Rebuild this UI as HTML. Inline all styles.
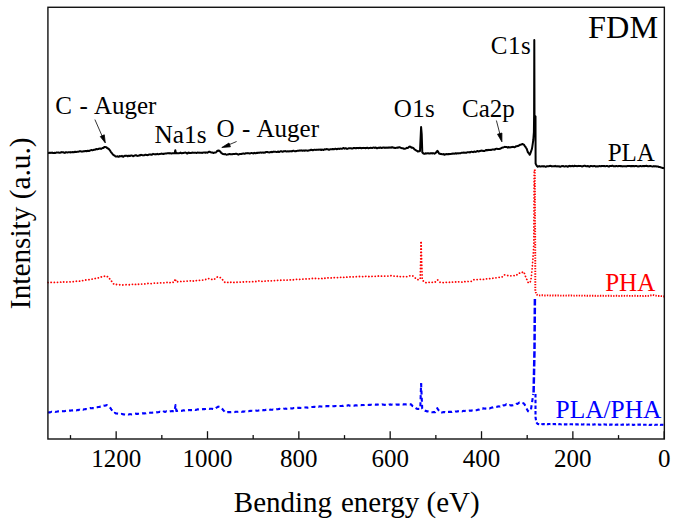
<!DOCTYPE html>
<html><head><meta charset="utf-8"><title>XPS FDM</title>
<style>
html,body{margin:0;padding:0;background:#fff;}
body{width:676px;height:526px;overflow:hidden;}
svg{display:block;}
text{font-family:"Liberation Serif",serif;fill:#000;}
</style></head><body>
<svg width="676" height="526" viewBox="0 0 676 526">
<rect x="0" y="0" width="676" height="526" fill="#fff"/>
<!-- PLA (black, solid) -->
<path d="M48.00 152.90 L48.46 152.90 L48.92 152.98 L49.38 152.76 L49.84 152.63 L50.30 152.73 L50.76 153.00 L51.22 152.85 L51.68 152.63 L52.14 152.57 L52.60 152.76 L53.06 153.08 L53.51 153.10 L53.97 153.02 L54.43 152.79 L54.89 152.97 L55.35 152.93 L55.81 152.86 L56.27 152.41 L56.73 152.44 L57.19 152.54 L57.65 152.62 L58.11 152.59 L58.57 152.59 L59.03 152.70 L59.49 152.82 L59.95 152.80 L60.41 152.50 L60.87 152.44 L61.33 152.24 L61.79 152.41 L62.25 152.14 L62.71 152.30 L63.17 152.21 L63.63 152.40 L64.09 152.77 L64.54 152.85 L65.00 152.91 L65.46 152.35 L65.92 152.31 L66.38 152.28 L66.84 152.41 L67.30 152.47 L67.76 152.40 L68.22 152.28 L68.68 152.29 L69.14 152.17 L69.60 152.30 L70.06 152.33 L70.52 152.46 L70.98 152.20 L71.44 152.33 L71.90 152.14 L72.36 152.22 L72.82 152.05 L73.28 152.23 L73.74 152.15 L74.20 152.14 L74.66 151.86 L75.12 151.84 L75.58 151.83 L76.04 152.08 L76.50 151.90 L76.96 151.87 L77.42 151.70 L77.88 151.74 L78.34 151.66 L78.80 151.58 L79.26 151.44 L79.72 151.25 L80.18 151.14 L80.64 151.24 L81.10 151.50 L81.56 151.62 L82.02 151.64 L82.48 151.51 L82.94 151.44 L83.40 151.29 L83.86 151.25 L84.32 151.34 L84.78 151.24 L85.24 151.03 L85.70 151.01 L86.16 151.04 L86.62 151.19 L87.08 151.03 L87.54 150.82 L88.00 150.70 L88.47 150.99 L88.95 151.06 L89.42 150.79 L89.90 150.52 L90.38 150.32 L90.85 150.15 L91.33 150.10 L91.80 150.10 L92.27 150.27 L92.73 150.14 L93.20 150.08 L93.67 149.82 L94.13 149.82 L94.60 149.70 L95.07 149.67 L95.53 149.28 L96.00 149.30 L96.46 148.93 L96.92 149.13 L97.38 149.34 L97.85 149.12 L98.31 148.98 L98.77 148.80 L99.23 148.82 L99.69 148.46 L100.15 148.41 L100.62 148.62 L101.08 148.94 L101.54 148.66 L102.00 148.30 L102.45 147.92 L102.90 148.07 L103.35 147.94 L103.80 147.30 L104.20 147.44 L104.60 147.22 L105.00 146.90 L105.47 147.13 L105.93 147.18 L106.40 147.20 L106.83 147.75 L107.27 148.23 L107.70 148.53 L108.13 148.50 L108.57 148.69 L109.00 149.30 L109.44 149.67 L109.89 150.41 L110.33 151.03 L110.78 151.78 L111.22 152.31 L111.67 152.90 L112.11 153.41 L112.56 154.04 L113.00 154.60 L113.50 155.04 L114.00 155.32 L114.50 155.41 L115.00 156.00 L115.47 156.32 L115.95 156.59 L116.43 156.47 L116.90 156.50 L117.36 156.30 L117.82 156.36 L118.29 156.73 L118.75 156.72 L119.21 156.58 L119.67 156.02 L120.13 156.13 L120.60 156.22 L121.06 156.30 L121.52 156.13 L121.98 155.90 L122.44 156.48 L122.91 156.56 L123.37 156.80 L123.83 156.35 L124.29 155.94 L124.75 155.84 L125.22 155.66 L125.68 155.95 L126.14 155.70 L126.60 155.75 L127.06 155.80 L127.53 156.22 L127.99 156.17 L128.45 155.82 L128.91 155.71 L129.37 155.93 L129.84 155.97 L130.30 155.76 L130.76 155.56 L131.22 155.52 L131.68 155.50 L132.15 155.70 L132.61 155.90 L133.07 156.20 L133.53 156.02 L133.99 155.90 L134.46 155.52 L134.92 155.50 L135.38 155.34 L135.84 155.22 L136.30 155.30 L136.77 155.60 L137.23 155.88 L137.69 155.93 L138.15 155.77 L138.61 155.57 L139.08 155.40 L139.54 155.30 L140.00 155.40 L140.47 154.99 L140.93 154.83 L141.40 154.92 L141.86 155.10 L142.33 155.19 L142.79 155.32 L143.26 155.29 L143.72 155.38 L144.19 155.32 L144.65 155.17 L145.12 154.83 L145.58 154.74 L146.05 154.72 L146.51 155.07 L146.98 154.99 L147.44 155.15 L147.91 155.05 L148.37 154.74 L148.84 154.67 L149.30 154.46 L149.77 154.58 L150.23 154.41 L150.70 154.55 L151.16 154.71 L151.63 154.84 L152.09 154.52 L152.56 154.31 L153.02 153.88 L153.49 154.03 L153.95 154.13 L154.42 154.29 L154.88 154.29 L155.35 154.22 L155.81 154.39 L156.28 154.23 L156.74 154.07 L157.21 153.83 L157.67 154.09 L158.14 154.28 L158.60 154.32 L159.07 154.11 L159.53 153.96 L160.00 153.90 L160.46 153.89 L160.91 153.81 L161.37 153.62 L161.83 153.54 L162.29 153.75 L162.74 153.94 L163.20 154.00 L163.66 153.75 L164.11 153.68 L164.57 153.69 L165.03 153.61 L165.49 153.60 L165.94 153.57 L166.40 153.53 L166.86 153.39 L167.31 153.22 L167.77 153.16 L168.23 153.33 L168.69 153.15 L169.14 153.22 L169.60 153.40 L170.06 153.21 L170.53 153.23 L170.99 153.42 L171.45 153.48 L171.92 153.43 L172.38 153.21 L172.85 153.17 L173.31 153.27 L173.77 153.28 L174.24 153.14 L174.70 153.20 L175.30 150.20 L175.90 153.20 L176.36 153.03 L176.82 153.19 L177.29 153.31 L177.75 153.35 L178.21 153.22 L178.67 153.32 L179.13 153.24 L179.60 153.12 L180.06 152.84 L180.52 152.63 L180.98 152.90 L181.44 153.23 L181.91 153.18 L182.37 153.19 L182.83 152.98 L183.29 153.07 L183.75 152.87 L184.22 152.87 L184.68 152.69 L185.14 152.63 L185.60 152.51 L186.06 152.78 L186.53 153.13 L186.99 153.58 L187.45 153.48 L187.91 153.02 L188.37 152.64 L188.84 152.56 L189.30 152.98 L189.76 153.09 L190.22 153.10 L190.68 152.97 L191.15 152.96 L191.61 152.84 L192.07 152.66 L192.53 152.56 L192.99 152.74 L193.46 152.81 L193.92 152.79 L194.38 152.80 L194.84 152.70 L195.30 152.63 L195.77 152.77 L196.23 152.87 L196.69 153.02 L197.15 152.65 L197.61 152.57 L198.08 152.61 L198.54 152.64 L199.00 152.70 L199.47 152.62 L199.93 152.82 L200.40 152.67 L200.87 152.73 L201.33 152.82 L201.80 152.78 L202.27 152.93 L202.73 152.69 L203.20 152.62 L203.67 152.52 L204.13 152.48 L204.60 152.53 L205.07 152.55 L205.53 152.81 L206.00 152.60 L206.44 152.51 L206.88 152.50 L207.31 152.76 L207.75 152.58 L208.19 152.20 L208.62 151.94 L209.06 151.75 L209.50 151.90 L209.94 151.83 L210.39 152.07 L210.83 152.37 L211.28 152.48 L211.72 152.45 L212.17 152.56 L212.61 152.58 L213.06 152.82 L213.50 153.00 L214.00 152.79 L214.50 152.63 L215.00 152.51 L215.50 152.60 L215.97 152.31 L216.45 151.87 L216.93 151.29 L217.40 150.80 L217.95 150.91 L218.50 150.40 L218.93 150.63 L219.37 150.70 L219.80 151.20 L220.25 151.61 L220.70 152.29 L221.15 152.77 L221.60 153.11 L222.05 153.40 L222.50 153.80 L223.00 153.93 L223.50 154.13 L224.00 154.24 L224.50 154.30 L224.96 154.06 L225.42 154.22 L225.88 154.45 L226.33 154.66 L226.79 154.63 L227.25 154.56 L227.71 154.44 L228.17 154.41 L228.62 154.18 L229.08 154.15 L229.54 153.97 L230.00 154.20 L230.45 154.12 L230.91 154.18 L231.36 154.13 L231.82 154.34 L232.27 154.24 L232.73 154.07 L233.18 154.00 L233.64 153.95 L234.09 154.10 L234.55 153.92 L235.00 154.02 L235.45 153.74 L235.91 153.88 L236.36 153.82 L236.82 153.92 L237.27 154.06 L237.73 154.19 L238.18 154.69 L238.64 154.48 L239.09 154.35 L239.55 153.93 L240.00 153.90 L240.46 154.07 L240.92 154.09 L241.38 153.93 L241.85 153.80 L242.31 153.74 L242.77 153.59 L243.23 153.53 L243.69 153.59 L244.15 153.70 L244.62 153.83 L245.08 153.59 L245.54 153.25 L246.00 153.28 L246.46 153.34 L246.92 153.36 L247.38 153.27 L247.85 153.07 L248.31 153.24 L248.77 153.24 L249.23 153.43 L249.69 153.43 L250.15 153.41 L250.62 153.21 L251.08 153.11 L251.54 153.01 L252.00 153.09 L252.46 153.14 L252.92 153.24 L253.38 153.44 L253.85 153.08 L254.31 153.03 L254.77 152.79 L255.23 153.33 L255.69 153.36 L256.15 153.17 L256.62 152.92 L257.08 152.72 L257.54 153.01 L258.00 152.81 L258.46 152.83 L258.92 152.68 L259.38 152.76 L259.85 152.68 L260.31 152.45 L260.77 152.49 L261.23 152.65 L261.69 152.83 L262.15 152.63 L262.62 152.51 L263.08 152.56 L263.54 152.64 L264.00 152.58 L264.46 152.66 L264.92 152.52 L265.38 152.43 L265.85 152.02 L266.31 152.04 L266.77 151.99 L267.23 152.08 L267.69 152.05 L268.15 152.32 L268.62 152.38 L269.08 152.43 L269.54 152.45 L270.00 152.20 L270.46 152.22 L270.92 151.99 L271.38 151.86 L271.84 152.23 L272.30 152.02 L272.76 152.04 L273.22 151.63 L273.68 151.76 L274.14 151.69 L274.60 151.85 L275.06 151.77 L275.52 151.79 L275.98 151.89 L276.44 152.02 L276.90 152.07 L277.37 151.83 L277.83 151.57 L278.29 151.57 L278.75 151.93 L279.21 151.98 L279.67 151.83 L280.13 151.45 L280.59 151.35 L281.05 151.30 L281.51 151.34 L281.97 151.61 L282.43 151.70 L282.89 151.64 L283.35 151.26 L283.81 151.26 L284.27 151.29 L284.73 151.32 L285.19 151.14 L285.65 151.11 L286.11 151.35 L286.57 151.53 L287.03 151.54 L287.49 151.35 L287.95 151.30 L288.41 151.25 L288.87 151.51 L289.33 151.32 L289.79 151.26 L290.25 151.13 L290.71 151.20 L291.17 151.39 L291.63 151.21 L292.10 151.24 L292.56 151.00 L293.02 150.82 L293.48 150.67 L293.94 150.95 L294.40 151.16 L294.86 151.32 L295.32 151.15 L295.78 151.12 L296.24 151.14 L296.70 150.97 L297.16 150.86 L297.62 150.83 L298.08 150.80 L298.54 150.64 L299.00 150.70 L299.46 150.43 L299.92 150.64 L300.38 150.56 L300.84 150.48 L301.30 150.35 L301.77 150.59 L302.23 150.69 L302.69 150.73 L303.15 150.52 L303.61 150.54 L304.07 150.61 L304.53 150.75 L304.99 150.51 L305.45 150.54 L305.91 150.35 L306.38 150.48 L306.84 150.58 L307.30 150.54 L307.76 150.79 L308.22 150.60 L308.68 150.48 L309.14 150.29 L309.60 150.24 L310.06 150.32 L310.52 149.97 L310.98 149.82 L311.45 149.79 L311.91 149.92 L312.37 150.15 L312.83 150.12 L313.29 150.19 L313.75 149.92 L314.21 149.83 L314.67 149.76 L315.13 149.79 L315.59 149.90 L316.05 149.91 L316.52 149.87 L316.98 149.64 L317.44 149.74 L317.90 149.65 L318.36 149.81 L318.82 149.62 L319.28 149.63 L319.74 149.61 L320.20 149.55 L320.66 149.88 L321.12 149.83 L321.59 149.94 L322.05 149.55 L322.51 149.72 L322.97 149.87 L323.43 149.97 L323.89 149.60 L324.35 149.36 L324.81 149.37 L325.27 149.45 L325.73 149.35 L326.20 149.12 L326.66 149.07 L327.12 149.19 L327.58 149.23 L328.04 149.30 L328.50 149.60 L328.96 149.87 L329.42 149.72 L329.88 149.41 L330.34 149.19 L330.80 149.28 L331.27 149.34 L331.73 149.27 L332.19 149.23 L332.65 149.04 L333.11 149.05 L333.57 149.21 L334.03 149.33 L334.49 149.16 L334.95 148.94 L335.41 148.73 L335.88 148.96 L336.34 149.02 L336.80 149.20 L337.26 149.07 L337.72 148.80 L338.18 148.73 L338.64 148.74 L339.10 149.00 L339.56 148.78 L340.02 148.74 L340.48 148.58 L340.95 148.63 L341.41 148.64 L341.87 148.74 L342.33 148.70 L342.79 148.43 L343.25 148.08 L343.71 148.10 L344.17 148.41 L344.63 148.67 L345.09 148.45 L345.55 148.20 L346.02 148.23 L346.48 148.67 L346.94 148.89 L347.40 148.86 L347.86 148.67 L348.32 148.38 L348.78 148.27 L349.24 148.18 L349.70 148.20 L350.16 148.24 L350.62 148.21 L351.09 148.32 L351.55 148.46 L352.01 148.57 L352.47 148.56 L352.93 148.34 L353.39 148.05 L353.85 147.97 L354.31 148.04 L354.77 148.08 L355.23 148.22 L355.70 148.10 L356.16 148.24 L356.62 148.03 L357.08 147.90 L357.54 148.08 L358.00 148.00 L358.46 148.21 L358.91 147.90 L359.37 148.06 L359.83 147.86 L360.29 147.87 L360.74 147.94 L361.20 148.26 L361.66 148.20 L362.11 148.09 L362.57 147.97 L363.03 147.99 L363.49 148.07 L363.94 147.86 L364.40 148.00 L364.86 147.97 L365.31 148.20 L365.77 148.16 L366.23 147.97 L366.69 147.90 L367.14 147.72 L367.60 147.95 L368.06 148.04 L368.51 148.24 L368.97 148.08 L369.43 148.04 L369.89 147.98 L370.34 147.90 L370.80 147.71 L371.26 147.85 L371.71 147.96 L372.17 148.01 L372.63 147.80 L373.09 147.63 L373.54 147.56 L374.00 147.63 L374.46 147.85 L374.91 147.89 L375.37 147.59 L375.83 147.71 L376.29 147.81 L376.74 148.17 L377.20 148.18 L377.66 148.04 L378.11 147.84 L378.57 147.72 L379.03 147.97 L379.49 147.83 L379.94 147.77 L380.40 147.48 L380.86 147.74 L381.31 147.93 L381.77 147.98 L382.23 147.76 L382.69 147.59 L383.14 147.59 L383.60 147.55 L384.06 147.65 L384.51 147.61 L384.97 147.87 L385.43 147.61 L385.89 147.79 L386.34 147.54 L386.80 147.81 L387.26 147.47 L387.71 147.79 L388.17 147.62 L388.63 147.65 L389.09 147.45 L389.54 147.53 L390.00 147.70 L390.45 147.56 L390.91 147.54 L391.36 147.63 L391.82 147.32 L392.27 147.22 L392.73 147.29 L393.18 147.67 L393.64 147.83 L394.09 147.69 L394.55 147.95 L395.00 147.91 L395.45 148.02 L395.91 147.84 L396.36 147.85 L396.82 147.81 L397.27 147.61 L397.73 147.60 L398.18 147.63 L398.64 147.48 L399.09 147.22 L399.55 147.21 L400.00 147.50 L400.45 147.72 L400.90 147.86 L401.35 147.99 L401.80 148.26 L402.25 148.23 L402.70 148.29 L403.15 148.26 L403.60 148.54 L404.05 148.80 L404.50 148.70 L404.97 148.76 L405.44 148.65 L405.91 148.37 L406.38 148.15 L406.85 147.85 L407.32 147.88 L407.78 147.94 L408.25 147.75 L408.72 147.07 L409.19 146.74 L409.66 146.56 L410.13 146.69 L410.60 146.70 L411.09 147.37 L411.57 147.70 L412.06 147.61 L412.54 147.69 L413.03 147.93 L413.51 148.28 L414.00 148.80 L414.49 149.40 L414.98 149.73 L415.46 149.86 L415.95 150.27 L416.44 150.55 L416.92 150.92 L417.41 151.22 L417.90 151.60 L418.32 151.33 L418.74 151.30 L419.16 151.30 L419.58 151.22 L420.00 151.00 L420.60 138.00 L421.10 127.10 L421.70 134.00 L422.30 152.50 L422.73 152.65 L423.17 153.35 L423.60 153.40 L424.06 153.90 L424.51 153.78 L424.97 153.74 L425.42 153.35 L425.88 153.43 L426.34 153.35 L426.79 153.52 L427.25 153.38 L427.70 153.21 L428.16 153.23 L428.62 153.44 L429.07 153.52 L429.53 153.57 L429.98 153.34 L430.44 153.41 L430.90 153.23 L431.35 153.36 L431.81 153.30 L432.26 153.46 L432.72 153.34 L433.18 153.23 L433.63 153.15 L434.09 153.35 L434.54 153.67 L435.00 153.40 L435.48 153.14 L435.96 152.54 L436.44 152.13 L436.92 151.35 L437.40 150.90 L437.82 151.22 L438.24 152.12 L438.66 152.76 L439.08 153.52 L439.50 153.80 L439.94 153.71 L440.38 153.78 L440.81 153.99 L441.25 154.10 L441.69 154.09 L442.12 154.28 L442.56 154.14 L443.00 154.30 L443.43 154.05 L443.86 154.49 L444.29 154.64 L444.71 154.71 L445.14 154.27 L445.57 154.18 L446.00 154.30 L446.46 154.02 L446.92 154.16 L447.38 154.15 L447.85 154.32 L448.31 154.04 L448.77 154.14 L449.23 154.00 L449.69 154.18 L450.15 154.02 L450.62 153.88 L451.08 153.90 L451.54 153.83 L452.00 153.87 L452.46 153.59 L452.92 153.63 L453.38 153.56 L453.85 153.66 L454.31 153.64 L454.77 153.56 L455.23 153.32 L455.69 153.30 L456.15 153.45 L456.62 153.66 L457.08 153.43 L457.54 153.36 L458.00 153.28 L458.46 153.41 L458.92 153.35 L459.38 153.23 L459.85 153.18 L460.31 153.20 L460.77 153.14 L461.23 152.91 L461.69 152.75 L462.15 152.80 L462.62 152.71 L463.08 152.60 L463.54 152.61 L464.00 152.80 L464.46 152.81 L464.91 152.54 L465.37 152.62 L465.83 152.76 L466.29 152.83 L466.74 152.59 L467.20 152.19 L467.66 152.27 L468.11 152.32 L468.57 152.31 L469.03 152.30 L469.49 152.32 L469.94 152.43 L470.40 152.03 L470.86 151.88 L471.31 151.83 L471.77 151.84 L472.23 151.91 L472.69 151.96 L473.14 152.17 L473.60 151.92 L474.06 151.62 L474.51 151.56 L474.97 151.71 L475.43 151.89 L475.89 151.86 L476.34 151.68 L476.80 151.44 L477.26 151.03 L477.71 151.08 L478.17 151.35 L478.63 151.46 L479.09 151.26 L479.54 151.02 L480.00 151.00 L480.45 150.90 L480.91 150.69 L481.36 150.46 L481.82 150.81 L482.27 150.75 L482.73 150.93 L483.18 150.86 L483.64 151.11 L484.09 151.12 L484.55 151.04 L485.00 150.61 L485.45 150.35 L485.91 150.02 L486.36 150.08 L486.82 150.37 L487.27 150.20 L487.73 150.25 L488.18 149.74 L488.64 150.04 L489.09 150.07 L489.55 150.10 L490.00 149.80 L490.45 149.94 L490.91 150.10 L491.36 149.85 L491.82 149.72 L492.27 149.48 L492.73 149.38 L493.18 149.46 L493.64 149.47 L494.09 149.71 L494.55 149.57 L495.00 149.45 L495.45 149.04 L495.91 148.92 L496.36 148.76 L496.82 148.67 L497.27 148.82 L497.73 148.95 L498.18 148.99 L498.64 148.88 L499.09 148.95 L499.55 148.99 L500.00 148.70 L500.43 148.64 L500.86 148.38 L501.29 148.04 L501.71 147.94 L502.14 147.72 L502.57 147.61 L503.00 147.60 L503.50 147.31 L504.00 147.12 L504.50 146.89 L505.00 146.80 L505.43 146.98 L505.86 147.05 L506.29 147.05 L506.71 147.09 L507.14 147.21 L507.57 147.33 L508.00 147.70 L508.47 147.10 L508.93 147.08 L509.40 147.36 L509.87 147.50 L510.33 147.32 L510.80 147.23 L511.27 147.15 L511.73 147.11 L512.20 146.86 L512.67 147.03 L513.13 146.86 L513.60 147.07 L514.07 147.04 L514.53 147.26 L515.00 147.10 L515.43 146.69 L515.86 146.48 L516.29 146.20 L516.71 146.30 L517.14 146.06 L517.57 146.02 L518.00 146.00 L518.50 145.73 L519.00 145.56 L519.50 145.16 L520.00 144.80 L520.50 144.69 L521.00 144.71 L521.50 144.46 L522.00 144.12 L522.50 144.00 L523.00 144.26 L523.50 144.47 L524.00 144.60 L524.50 145.68 L525.00 146.29 L525.50 146.90 L526.00 147.70 L526.53 148.46 L527.07 149.94 L527.60 151.50 L528.02 152.49 L528.44 152.81 L528.86 153.34 L529.28 153.97 L529.70 154.80 L530.16 153.97 L530.62 152.69 L531.08 151.35 L531.54 150.02 L532.00 148.70 L532.43 145.80 L532.87 142.90 L533.30 140.00 L533.90 132.00 L534.10 115.50 L534.30 40.00 L534.50 115.50 L535.00 115.95 L535.50 116.50 L535.60 163.50 L536.13 164.71 L536.67 165.61 L537.20 166.30 L537.66 166.67 L538.12 166.59 L538.58 166.38 L539.03 166.10 L539.49 166.15 L539.95 166.49 L540.41 166.53 L540.87 166.56 L541.33 166.36 L541.78 166.20 L542.24 166.18 L542.70 166.13 L543.16 166.50 L543.62 166.31 L544.08 166.34 L544.53 166.22 L544.99 166.57 L545.45 166.74 L545.91 166.64 L546.37 166.57 L546.83 166.32 L547.28 166.17 L547.74 166.34 L548.20 166.22 L548.66 166.30 L549.12 166.05 L549.58 166.09 L550.04 165.84 L550.49 165.86 L550.95 165.97 L551.41 166.24 L551.87 166.39 L552.33 166.35 L552.79 166.26 L553.24 166.19 L553.70 166.29 L554.16 166.25 L554.62 166.04 L555.08 165.84 L555.54 166.07 L555.99 166.36 L556.45 166.38 L556.91 166.26 L557.37 166.24 L557.83 166.50 L558.29 166.41 L558.74 166.28 L559.20 166.29 L559.66 166.65 L560.12 166.85 L560.58 166.55 L561.04 166.32 L561.49 166.11 L561.95 166.23 L562.41 166.10 L562.87 166.08 L563.33 166.08 L563.79 166.37 L564.25 166.51 L564.70 166.56 L565.16 166.35 L565.62 166.17 L566.08 166.10 L566.54 166.24 L567.00 166.42 L567.45 166.68 L567.91 166.56 L568.37 166.46 L568.83 166.04 L569.29 166.05 L569.75 165.85 L570.20 166.22 L570.66 166.10 L571.12 166.30 L571.58 165.96 L572.04 165.97 L572.50 165.86 L572.95 166.15 L573.41 166.24 L573.87 166.21 L574.33 165.85 L574.79 165.81 L575.25 165.89 L575.71 165.98 L576.16 166.06 L576.62 166.09 L577.08 166.23 L577.54 166.09 L578.00 166.05 L578.46 165.98 L578.91 165.86 L579.37 166.00 L579.83 166.10 L580.29 166.08 L580.75 166.02 L581.21 166.11 L581.66 166.33 L582.12 166.47 L582.58 166.30 L583.04 166.27 L583.50 165.97 L583.96 165.89 L584.41 165.68 L584.87 165.72 L585.33 165.86 L585.79 166.13 L586.25 166.37 L586.71 166.36 L587.16 166.18 L587.62 166.09 L588.08 166.06 L588.54 166.38 L589.00 166.56 L589.46 166.69 L589.92 166.34 L590.37 166.05 L590.83 165.96 L591.29 166.00 L591.75 166.13 L592.21 166.18 L592.67 166.36 L593.12 166.33 L593.58 166.14 L594.04 165.94 L594.50 165.90 L594.96 166.16 L595.42 166.44 L595.87 166.57 L596.33 166.45 L596.79 166.35 L597.25 166.33 L597.71 166.43 L598.17 166.45 L598.62 166.18 L599.08 166.14 L599.54 166.08 L600.00 166.10 L600.46 166.15 L600.92 166.14 L601.38 166.19 L601.83 165.93 L602.29 165.91 L602.75 165.98 L603.21 166.17 L603.67 165.97 L604.13 165.96 L604.59 166.05 L605.05 166.26 L605.50 166.26 L605.96 166.13 L606.42 166.03 L606.88 166.04 L607.34 166.04 L607.80 166.14 L608.26 166.46 L608.72 166.59 L609.17 166.58 L609.63 166.01 L610.09 165.94 L610.55 166.01 L611.01 166.12 L611.47 166.08 L611.93 165.72 L612.39 165.87 L612.84 165.83 L613.30 166.18 L613.76 166.27 L614.22 166.32 L614.68 166.36 L615.14 166.23 L615.60 166.22 L616.06 166.07 L616.51 165.94 L616.97 166.12 L617.43 166.25 L617.89 166.24 L618.35 166.18 L618.81 166.00 L619.27 165.94 L619.72 165.98 L620.18 165.91 L620.64 166.23 L621.10 166.11 L621.56 166.37 L622.02 166.29 L622.48 166.40 L622.94 166.34 L623.39 166.34 L623.85 166.24 L624.31 166.33 L624.77 166.21 L625.23 166.30 L625.69 166.35 L626.15 166.39 L626.61 166.32 L627.06 166.08 L627.52 166.06 L627.98 166.04 L628.44 166.06 L628.90 165.99 L629.36 165.95 L629.82 166.02 L630.28 166.16 L630.73 166.24 L631.19 166.01 L631.65 166.14 L632.11 166.04 L632.57 166.16 L633.03 165.95 L633.49 166.02 L633.94 166.21 L634.40 166.21 L634.86 166.18 L635.32 165.89 L635.78 165.95 L636.24 165.92 L636.70 166.06 L637.16 166.14 L637.61 166.36 L638.07 166.54 L638.53 166.34 L638.99 166.31 L639.45 166.15 L639.91 166.24 L640.37 165.99 L640.83 166.08 L641.28 166.15 L641.74 166.24 L642.20 166.16 L642.66 166.08 L643.12 166.01 L643.58 166.15 L644.04 166.11 L644.50 166.14 L644.95 166.00 L645.41 165.97 L645.87 165.96 L646.33 165.81 L646.79 165.95 L647.25 166.04 L647.71 166.18 L648.17 166.31 L648.62 166.15 L649.08 166.25 L649.54 166.12 L650.00 166.10 L650.47 166.10 L650.93 166.18 L651.40 166.28 L651.87 166.38 L652.33 166.47 L652.80 166.52 L653.27 166.33 L653.73 166.11 L654.20 166.22 L654.67 166.43 L655.13 166.42 L655.60 166.13 L656.07 166.21 L656.53 166.55 L657.00 166.60 L657.44 166.46 L657.89 166.44 L658.33 166.61 L658.78 166.92 L659.22 166.91 L659.67 166.96 L660.11 167.13 L660.56 167.36 L661.00 167.40 L661.44 167.60 L661.88 167.72 L662.31 167.78 L662.75 168.03 L663.19 167.91 L663.62 168.11 L664.06 168.24 L664.50 168.30" fill="none" stroke="#000" stroke-width="2" stroke-linejoin="round"/>
<!-- PHA (red, dotted) -->
<g fill="none" stroke="#ff0000" stroke-width="1.8" stroke-linejoin="round" stroke-linecap="round">
<path d="M48.00 282.50 L48.46 282.62 L48.92 282.46 L49.38 282.51 L49.83 282.52 L50.29 282.63 L50.75 282.52 L51.21 282.36 L51.67 282.26 L52.12 282.25 L52.58 282.27 L53.04 282.31 L53.50 282.38 L53.96 282.45 L54.42 282.47 L54.88 282.42 L55.33 282.30 L55.79 282.16 L56.25 282.09 L56.71 282.20 L57.17 282.29 L57.62 282.31 L58.08 282.32 L58.54 282.18 L59.00 282.15 L59.46 282.17 L59.92 282.25 L60.38 282.32 L60.83 282.05 L61.29 281.88 L61.75 281.72 L62.21 281.92 L62.67 282.15 L63.12 282.15 L63.58 281.99 L64.04 281.78 L64.50 281.75 L64.96 281.85 L65.42 281.88 L65.88 282.07 L66.33 282.07 L66.79 282.03 L67.25 281.89 L67.71 281.81 L68.17 281.90 L68.62 281.94 L69.08 281.91 L69.54 281.90 L70.00 281.86 L70.46 281.87 L70.92 281.80 L71.38 281.80 L71.83 281.77 L72.29 281.68 L72.75 281.71 L73.21 281.72 L73.67 281.71 L74.12 281.64 L74.58 281.51 L75.04 281.55 L75.50 281.60 L75.96 281.40 L76.41 281.20 L76.87 281.18 L77.33 281.21 L77.78 281.25 L78.24 281.15 L78.69 281.14 L79.15 281.04 L79.61 281.17 L80.06 280.93 L80.52 280.80 L80.98 280.76 L81.43 280.70 L81.89 280.79 L82.35 280.67 L82.80 280.54 L83.26 280.42 L83.72 280.22 L84.17 280.29 L84.63 280.22 L85.08 280.10 L85.54 279.99 L86.00 279.98 L86.45 279.98 L86.91 279.95 L87.37 279.78 L87.82 279.73 L88.28 279.65 L88.74 279.63 L89.19 279.65 L89.65 279.63 L90.11 279.61 L90.56 279.50 L91.02 279.37 L91.47 279.16 L91.93 279.11 L92.39 279.16 L92.84 279.19 L93.30 278.90 L93.76 278.79 L94.22 278.76 L94.67 278.69 L95.13 278.52 L95.59 278.31 L96.05 278.13 L96.51 278.08 L96.96 277.92 L97.42 277.81 L97.88 277.83 L98.34 277.86 L98.79 277.71 L99.25 277.42 L99.71 277.21 L100.17 277.19 L100.63 277.06 L101.08 277.05 L101.54 276.85 L102.00 276.90 L102.44 276.77 L102.89 276.75 L103.33 276.54 L103.78 276.39 L104.22 276.31 L104.67 276.10 L105.11 275.89 L105.56 275.81 L106.00 275.90 L106.47 276.19 L106.93 276.36 L107.40 276.60 L107.87 276.86 L108.33 277.42 L108.80 277.60 L109.27 278.44 L109.75 278.89 L110.22 279.62 L110.69 280.14 L111.16 280.69 L111.64 281.41 L112.11 282.06 L112.58 282.70 L113.05 283.19 L113.53 283.79 L114.00 284.40 L114.46 284.34 L114.93 284.31 L115.39 284.47 L115.85 284.57 L116.32 284.51 L116.78 284.48 L117.24 284.54 L117.71 284.62 L118.17 284.58 L118.63 284.61 L119.09 284.73 L119.56 284.81 L120.02 284.68 L120.48 284.73 L120.95 284.76 L121.41 284.89 L121.87 284.94 L122.34 285.07 L122.80 285.00 L123.26 284.97 L123.72 284.89 L124.18 284.88 L124.64 284.91 L125.11 284.85 L125.57 284.81 L126.03 284.73 L126.49 284.70 L126.95 284.71 L127.41 284.81 L127.87 284.79 L128.33 284.79 L128.79 284.71 L129.25 284.73 L129.72 284.71 L130.18 284.62 L130.64 284.63 L131.10 284.58 L131.56 284.34 L132.02 284.30 L132.48 284.30 L132.94 284.67 L133.40 284.54 L133.86 284.48 L134.33 284.34 L134.79 284.32 L135.25 284.38 L135.71 284.36 L136.17 284.35 L136.63 284.15 L137.09 284.06 L137.55 284.27 L138.01 284.49 L138.48 284.31 L138.94 283.98 L139.40 283.85 L139.86 284.00 L140.32 284.06 L140.78 284.03 L141.24 284.02 L141.70 284.06 L142.16 284.01 L142.62 283.90 L143.09 283.95 L143.55 283.87 L144.01 284.01 L144.47 283.94 L144.93 283.95 L145.39 283.86 L145.85 283.78 L146.31 283.62 L146.77 283.56 L147.24 283.57 L147.70 283.56 L148.16 283.45 L148.62 283.47 L149.08 283.62 L149.54 283.60 L150.00 283.53 L150.46 283.44 L150.92 283.60 L151.38 283.52 L151.85 283.48 L152.31 283.33 L152.77 283.34 L153.23 283.32 L153.69 283.30 L154.15 283.24 L154.61 283.17 L155.07 283.24 L155.53 283.16 L155.99 283.08 L156.46 282.94 L156.92 283.07 L157.38 283.12 L157.84 283.22 L158.30 283.10 L158.75 283.14 L159.21 283.12 L159.66 283.08 L160.12 283.09 L160.57 282.95 L161.03 282.89 L161.48 282.77 L161.93 282.78 L162.39 282.71 L162.84 282.81 L163.30 282.83 L163.75 282.80 L164.21 282.81 L164.66 282.85 L165.11 282.87 L165.57 282.73 L166.02 282.65 L166.48 282.44 L166.93 282.43 L167.39 282.41 L167.84 282.71 L168.29 282.67 L168.75 282.72 L169.20 282.71 L169.66 282.88 L170.11 282.57 L170.57 282.45 L171.02 282.30 L171.47 282.53 L171.93 282.41 L172.38 282.32 L172.84 282.20 L173.29 282.30 L173.75 282.38 L174.20 282.20 L174.70 280.52 L175.20 278.70 L175.70 280.48 L176.20 282.00 L176.66 281.96 L177.11 281.83 L177.57 281.77 L178.03 281.74 L178.48 281.65 L178.94 281.54 L179.40 281.62 L179.86 281.62 L180.31 281.59 L180.77 281.49 L181.23 281.65 L181.68 281.80 L182.14 281.74 L182.60 281.53 L183.05 281.36 L183.51 281.29 L183.97 281.30 L184.42 281.34 L184.88 281.29 L185.34 281.24 L185.79 281.16 L186.25 281.20 L186.71 281.17 L187.17 281.10 L187.62 280.98 L188.08 280.95 L188.54 281.02 L188.99 281.05 L189.45 280.84 L189.91 280.82 L190.36 280.80 L190.82 280.93 L191.28 280.83 L191.73 280.58 L192.19 280.49 L192.65 280.56 L193.11 280.91 L193.56 281.16 L194.02 280.99 L194.48 280.80 L194.93 280.66 L195.39 280.59 L195.85 280.69 L196.30 280.54 L196.76 280.63 L197.22 280.38 L197.67 280.43 L198.13 280.37 L198.59 280.50 L199.04 280.36 L199.50 280.32 L199.96 280.35 L200.42 280.31 L200.87 280.30 L201.33 280.17 L201.79 280.19 L202.24 280.11 L202.70 280.10 L203.15 280.16 L203.61 280.10 L204.06 279.90 L204.52 279.62 L204.97 279.47 L205.42 279.46 L205.88 279.51 L206.33 279.29 L206.78 278.88 L207.24 278.64 L207.69 278.64 L208.15 278.64 L208.60 278.60 L209.04 278.68 L209.48 278.91 L209.92 279.07 L210.36 279.26 L210.80 279.20 L211.24 279.34 L211.68 279.40 L212.12 279.52 L212.56 279.69 L213.00 279.80 L213.45 279.38 L213.90 279.19 L214.35 279.12 L214.80 278.96 L215.25 278.58 L215.70 278.28 L216.15 277.87 L216.60 277.52 L217.05 277.25 L217.50 276.90 L217.94 277.14 L218.38 277.13 L218.81 277.34 L219.25 277.43 L219.69 277.56 L220.12 277.55 L220.56 277.66 L221.00 278.00 L221.44 278.48 L221.89 279.02 L222.33 279.43 L222.78 279.92 L223.22 280.47 L223.67 281.15 L224.11 281.59 L224.56 282.03 L225.00 282.50 L225.45 282.61 L225.91 282.63 L226.36 282.58 L226.82 282.38 L227.27 282.35 L227.73 282.42 L228.18 282.54 L228.64 282.65 L229.09 282.44 L229.55 282.43 L230.00 282.27 L230.45 282.43 L230.91 282.18 L231.36 282.23 L231.82 282.11 L232.27 282.38 L232.73 282.38 L233.18 282.54 L233.64 282.40 L234.09 282.53 L234.55 282.39 L235.00 282.56 L235.45 282.36 L235.91 282.31 L236.36 282.23 L236.82 282.23 L237.27 282.29 L237.73 282.11 L238.18 282.11 L238.64 282.11 L239.09 282.15 L239.55 282.19 L240.00 282.20 L240.46 282.10 L240.92 282.02 L241.38 282.28 L241.84 282.17 L242.30 282.13 L242.77 281.96 L243.23 281.98 L243.69 282.06 L244.15 282.03 L244.61 281.93 L245.07 281.90 L245.53 281.97 L245.99 281.88 L246.45 281.75 L246.91 281.61 L247.38 281.85 L247.84 282.00 L248.30 282.09 L248.76 281.98 L249.22 281.78 L249.68 281.78 L250.14 281.69 L250.60 281.69 L251.06 281.73 L251.52 281.63 L251.98 281.77 L252.45 281.62 L252.91 281.64 L253.37 281.53 L253.83 281.42 L254.29 281.49 L254.75 281.40 L255.21 281.35 L255.67 281.52 L256.13 281.51 L256.59 281.65 L257.05 281.42 L257.52 281.49 L257.98 281.30 L258.44 281.20 L258.90 280.88 L259.36 281.03 L259.82 281.12 L260.28 281.26 L260.74 281.22 L261.20 281.21 L261.66 281.50 L262.12 281.43 L262.59 281.44 L263.05 281.24 L263.51 281.26 L263.97 281.17 L264.43 281.07 L264.89 281.04 L265.35 281.11 L265.81 281.03 L266.27 280.87 L266.73 280.75 L267.20 280.96 L267.66 281.01 L268.12 280.86 L268.58 280.76 L269.04 280.81 L269.50 281.07 L269.96 281.00 L270.42 281.07 L270.88 280.84 L271.34 280.88 L271.80 280.72 L272.27 280.66 L272.73 280.55 L273.19 280.62 L273.65 280.77 L274.11 280.74 L274.57 280.70 L275.03 280.66 L275.49 280.74 L275.95 280.65 L276.41 280.59 L276.88 280.43 L277.34 280.38 L277.80 280.35 L278.26 280.33 L278.72 280.30 L279.18 280.28 L279.64 280.33 L280.10 280.41 L280.56 280.29 L281.02 280.23 L281.48 280.15 L281.95 280.17 L282.41 280.21 L282.87 280.13 L283.33 280.22 L283.79 280.16 L284.25 280.09 L284.71 280.03 L285.17 280.15 L285.63 280.07 L286.09 279.98 L286.55 279.84 L287.02 280.04 L287.48 280.14 L287.94 280.11 L288.40 279.89 L288.86 279.80 L289.32 279.87 L289.78 280.00 L290.24 279.93 L290.70 279.77 L291.16 279.90 L291.62 279.78 L292.09 279.71 L292.55 279.58 L293.01 279.67 L293.47 279.81 L293.93 279.74 L294.39 279.83 L294.85 279.86 L295.31 279.77 L295.77 279.70 L296.23 279.48 L296.70 279.37 L297.16 279.36 L297.62 279.40 L298.08 279.34 L298.54 279.23 L299.00 279.40 L299.46 279.37 L299.92 279.34 L300.38 279.31 L300.84 279.20 L301.30 279.24 L301.77 279.20 L302.23 279.25 L302.69 279.09 L303.15 279.17 L303.61 279.28 L304.07 279.37 L304.53 279.40 L304.99 279.28 L305.45 279.14 L305.91 279.01 L306.38 278.96 L306.84 279.05 L307.30 279.00 L307.76 279.02 L308.22 278.91 L308.68 278.94 L309.14 278.87 L309.60 278.82 L310.06 278.86 L310.52 278.85 L310.98 278.92 L311.45 278.82 L311.91 278.64 L312.37 278.50 L312.83 278.41 L313.29 278.63 L313.75 278.67 L314.21 278.76 L314.67 278.58 L315.13 278.54 L315.59 278.44 L316.05 278.57 L316.52 278.49 L316.98 278.49 L317.44 278.42 L317.90 278.53 L318.36 278.52 L318.82 278.53 L319.28 278.52 L319.74 278.42 L320.20 278.39 L320.66 278.29 L321.12 278.31 L321.59 278.35 L322.05 278.58 L322.51 278.69 L322.97 278.59 L323.43 278.33 L323.89 278.14 L324.35 278.21 L324.81 278.27 L325.27 278.20 L325.73 278.17 L326.20 278.17 L326.66 278.35 L327.12 278.24 L327.58 278.01 L328.04 277.84 L328.50 277.77 L328.96 277.90 L329.42 278.05 L329.88 277.99 L330.34 277.97 L330.80 277.83 L331.27 277.85 L331.73 277.76 L332.19 277.65 L332.65 277.44 L333.11 277.52 L333.57 277.58 L334.03 277.76 L334.49 277.64 L334.95 277.63 L335.41 277.52 L335.88 277.50 L336.34 277.51 L336.80 277.60 L337.26 277.70 L337.72 277.65 L338.18 277.55 L338.64 277.59 L339.10 277.67 L339.56 277.63 L340.02 277.42 L340.48 277.33 L340.95 277.38 L341.41 277.37 L341.87 277.49 L342.33 277.29 L342.79 277.27 L343.25 277.10 L343.71 277.31 L344.17 277.21 L344.63 277.14 L345.09 277.15 L345.55 277.37 L346.02 277.36 L346.48 277.24 L346.94 277.04 L347.40 277.07 L347.86 276.97 L348.32 276.86 L348.78 276.69 L349.24 276.75 L349.70 276.79 L350.16 276.96 L350.62 277.03 L351.09 277.18 L351.55 277.13 L352.01 277.10 L352.47 277.02 L352.93 277.01 L353.39 276.94 L353.85 276.96 L354.31 276.79 L354.77 276.69 L355.23 276.53 L355.70 276.65 L356.16 276.71 L356.62 276.71 L357.08 276.55 L357.54 276.45 L358.00 276.60 L358.46 276.61 L358.91 276.62 L359.37 276.49 L359.83 276.48 L360.29 276.61 L360.74 276.60 L361.20 276.57 L361.66 276.57 L362.11 276.67 L362.57 276.60 L363.03 276.54 L363.49 276.38 L363.94 276.50 L364.40 276.22 L364.86 276.23 L365.31 276.25 L365.77 276.38 L366.23 276.39 L366.69 276.32 L367.14 276.35 L367.60 276.36 L368.06 276.30 L368.51 276.42 L368.97 276.56 L369.43 276.62 L369.89 276.39 L370.34 276.23 L370.80 276.17 L371.26 276.29 L371.71 276.44 L372.17 276.41 L372.63 276.37 L373.09 276.21 L373.54 276.25 L374.00 276.18 L374.46 276.23 L374.91 276.30 L375.37 276.31 L375.83 276.24 L376.29 276.16 L376.74 276.08 L377.20 276.23 L377.66 276.11 L378.11 276.17 L378.57 275.96 L379.03 276.16 L379.49 276.14 L379.94 276.16 L380.40 276.18 L380.86 276.20 L381.31 276.17 L381.77 276.01 L382.23 276.03 L382.69 276.02 L383.14 276.00 L383.60 275.96 L384.06 276.06 L384.51 276.12 L384.97 276.19 L385.43 276.11 L385.89 276.11 L386.34 276.02 L386.80 276.10 L387.26 276.06 L387.71 276.04 L388.17 276.03 L388.63 275.88 L389.09 275.83 L389.54 275.67 L390.00 275.90 L390.46 275.76 L390.93 275.75 L391.39 275.64 L391.85 275.77 L392.31 275.82 L392.77 276.15 L393.24 276.22 L393.70 276.21 L394.16 276.17 L394.62 276.14 L395.09 276.33 L395.55 276.17 L396.01 276.27 L396.48 276.29 L396.94 276.37 L397.40 276.24 L397.86 276.15 L398.32 276.22 L398.79 276.49 L399.25 276.68 L399.71 276.79 L400.18 276.62 L400.64 276.48 L401.10 276.41 L401.56 276.43 L402.03 276.44 L402.49 276.42 L402.95 276.53 L403.41 276.58 L403.88 276.63 L404.34 276.57 L404.80 276.60 L405.26 276.48 L405.73 276.53 L406.19 276.50 L406.65 276.58 L407.11 276.41 L407.57 276.41 L408.04 276.13 L408.50 276.05 L408.96 275.90 L409.43 275.89 L409.89 275.85 L410.35 275.73 L410.81 275.70 L411.27 275.59 L411.74 275.60 L412.20 275.60 L412.67 275.87 L413.15 276.20 L413.62 276.59 L414.09 276.93 L414.56 277.33 L415.04 277.79 L415.51 278.23 L415.98 278.63 L416.45 278.95 L416.93 279.27 L417.40 279.60 L417.87 279.73 L418.33 279.61 L418.80 279.57 L419.27 279.23 L419.73 279.32 L420.20 279.00 L420.65 260.80 L421.10 242.60" stroke-dasharray="0.05 3.18"/>
<path d="M421.10 242.60 L421.65 261.05 L422.20 279.50 L422.75 280.04 L423.30 281.00 L423.74 281.25 L424.18 281.43 L424.62 281.68 L425.06 282.03 L425.50 282.50 L425.97 282.67 L426.44 282.50 L426.91 282.51 L427.37 282.38 L427.84 282.58 L428.31 282.46 L428.78 282.36 L429.25 282.29 L429.72 282.40 L430.18 282.36 L430.65 282.40 L431.12 282.39 L431.59 282.58 L432.06 282.36 L432.53 282.40 L432.99 282.28 L433.46 282.44 L433.93 282.46 L434.40 282.50 L434.86 282.34 L435.31 281.92 L435.77 281.53 L436.23 281.10 L436.69 280.74 L437.14 280.24 L437.60 280.00 L438.05 280.32 L438.50 280.93 L438.95 281.44 L439.40 281.88 L439.85 282.14 L440.30 282.50 L440.76 282.58 L441.21 282.50 L441.67 282.41 L442.13 282.48 L442.59 282.53 L443.04 282.59 L443.50 282.46 L443.96 282.61 L444.42 282.52 L444.87 282.56 L445.33 282.37 L445.79 282.39 L446.25 282.31 L446.70 282.20 L447.16 282.15 L447.62 282.06 L448.08 282.26 L448.53 282.28 L448.99 282.36 L449.45 282.28 L449.91 282.01 L450.36 282.11 L450.82 281.99 L451.28 282.22 L451.74 282.28 L452.19 282.19 L452.65 282.09 L453.11 281.91 L453.56 282.04 L454.02 281.93 L454.48 281.82 L454.94 281.88 L455.39 281.95 L455.85 282.04 L456.31 281.81 L456.77 281.77 L457.22 281.58 L457.68 281.68 L458.14 281.82 L458.60 281.95 L459.05 281.89 L459.51 281.81 L459.97 281.82 L460.43 281.80 L460.88 281.81 L461.34 281.90 L461.80 282.07 L462.26 281.97 L462.71 281.71 L463.17 281.67 L463.63 281.77 L464.09 281.94 L464.54 281.83 L465.00 281.60 L465.46 281.69 L465.91 281.71 L466.37 281.80 L466.83 281.64 L467.29 281.61 L467.74 281.49 L468.20 281.53 L468.66 281.46 L469.11 281.45 L469.57 281.63 L470.03 281.64 L470.49 281.67 L470.94 281.46 L471.40 281.40 L471.83 281.11 L472.27 280.88 L472.70 280.64 L473.13 280.44 L473.57 280.02 L474.00 279.70 L474.45 279.57 L474.91 279.56 L475.36 279.59 L475.82 279.56 L476.27 279.63 L476.73 279.62 L477.18 279.56 L477.64 279.66 L478.09 279.69 L478.55 279.67 L479.00 279.57 L479.45 279.53 L479.91 279.50 L480.36 279.42 L480.82 279.40 L481.27 279.24 L481.73 279.15 L482.18 279.11 L482.64 279.33 L483.09 279.34 L483.55 279.36 L484.00 279.30 L484.45 279.49 L484.91 279.36 L485.36 279.14 L485.82 278.99 L486.27 278.98 L486.73 278.93 L487.18 279.00 L487.64 279.01 L488.09 278.94 L488.55 278.84 L489.00 278.69 L489.45 278.76 L489.91 278.58 L490.36 278.50 L490.82 278.26 L491.27 278.32 L491.73 278.32 L492.18 278.32 L492.64 278.30 L493.09 278.20 L493.55 278.08 L494.00 278.00 L494.47 277.74 L494.94 277.76 L495.41 277.73 L495.88 277.84 L496.35 277.84 L496.82 277.75 L497.29 277.56 L497.76 277.48 L498.24 277.42 L498.71 277.47 L499.18 277.42 L499.65 277.40 L500.12 277.46 L500.59 277.31 L501.06 277.32 L501.53 277.10 L502.00 277.10 L502.47 276.54 L502.93 276.26 L503.40 276.20 L503.80 275.79 L504.20 275.31 L504.60 274.90 L505.04 274.87 L505.48 275.06 L505.92 275.16 L506.36 275.35 L506.80 275.44 L507.24 275.48 L507.68 275.55 L508.12 275.39 L508.56 275.53 L509.00 275.70 L509.47 275.62 L509.93 275.71 L510.40 275.78 L510.87 275.78 L511.33 275.79 L511.80 275.73 L512.27 275.68 L512.73 275.66 L513.20 275.76 L513.67 275.71 L514.13 275.65 L514.60 275.67 L515.07 275.76 L515.53 275.72 L516.00 275.70 L516.50 275.17 L517.00 274.63 L517.50 274.15 L518.00 273.60 L518.43 273.38 L518.86 273.32 L519.29 273.21 L519.71 273.05 L520.14 272.56 L520.57 272.42 L521.00 272.50 L521.43 272.27 L521.86 272.21 L522.29 272.35 L522.71 272.19 L523.14 272.14 L523.57 271.93 L524.00 271.90 L524.40 273.30 L524.80 274.43 L525.20 275.70 L525.63 276.79 L526.07 277.92 L526.50 278.90 L526.92 279.62 L527.35 280.46 L527.78 281.53 L528.20 282.60 L528.65 282.65 L529.10 282.62 L529.55 282.72 L530.00 282.80 L530.40 281.46 L530.80 279.87 L531.20 278.00 L531.70 273.00 L532.20 268.00 L532.70 261.50 L533.20 255.00 L533.85 243.00 L534.20 169.60" stroke-dasharray="0.05 3.18"/>
<path d="M534.80 169.60 L535.25 253.00 L535.30 290.80 L535.70 292.12 L536.10 293.25 L536.50 294.40 L536.92 294.64 L537.34 294.86 L537.76 294.96 L538.18 295.12 L538.60 295.40 L539.06 295.38 L539.52 295.39 L539.98 295.43 L540.45 295.40 L540.91 295.42 L541.37 295.34 L541.83 295.32 L542.29 295.29 L542.75 295.32 L543.22 295.36 L543.68 295.37 L544.14 295.41 L544.60 295.45 L545.06 295.48 L545.52 295.47 L545.99 295.44 L546.45 295.41 L546.91 295.37 L547.37 295.38 L547.83 295.38 L548.29 295.41 L548.76 295.45 L549.22 295.49 L549.68 295.54 L550.14 295.50 L550.60 295.43 L551.06 295.37 L551.53 295.45 L551.99 295.53 L552.45 295.55 L552.91 295.54 L553.37 295.51 L553.83 295.57 L554.30 295.53 L554.76 295.53 L555.22 295.51 L555.68 295.49 L556.14 295.50 L556.60 295.53 L557.07 295.58 L557.53 295.56 L557.99 295.50 L558.45 295.49 L558.91 295.50 L559.37 295.53 L559.84 295.56 L560.30 295.59 L560.76 295.60 L561.22 295.58 L561.68 295.59 L562.14 295.54 L562.61 295.57 L563.07 295.60 L563.53 295.61 L563.99 295.57 L564.45 295.55 L564.91 295.56 L565.38 295.62 L565.84 295.62 L566.30 295.62 L566.76 295.56 L567.22 295.56 L567.68 295.57 L568.15 295.58 L568.61 295.52 L569.07 295.48 L569.53 295.53 L569.99 295.56 L570.45 295.52 L570.92 295.49 L571.38 295.48 L571.84 295.57 L572.30 295.60 L572.76 295.61 L573.22 295.64 L573.69 295.67 L574.15 295.67 L574.61 295.70 L575.07 295.67 L575.53 295.66 L575.99 295.62 L576.46 295.59 L576.92 295.61 L577.38 295.58 L577.84 295.61 L578.30 295.62 L578.76 295.59 L579.23 295.61 L579.69 295.62 L580.15 295.68 L580.61 295.69 L581.07 295.70 L581.53 295.70 L582.00 295.66 L582.46 295.67 L582.92 295.70 L583.38 295.69 L583.84 295.66 L584.30 295.61 L584.77 295.67 L585.23 295.68 L585.69 295.68 L586.15 295.70 L586.61 295.73 L587.07 295.77 L587.54 295.74 L588.00 295.73 L588.46 295.73 L588.92 295.75 L589.38 295.77 L589.84 295.76 L590.31 295.74 L590.77 295.78 L591.23 295.78 L591.69 295.75 L592.15 295.70 L592.61 295.69 L593.08 295.80 L593.54 295.81 L594.00 295.86 L594.46 295.81 L594.92 295.84 L595.38 295.80 L595.85 295.80 L596.31 295.70 L596.77 295.77 L597.23 295.77 L597.69 295.86 L598.15 295.83 L598.62 295.80 L599.08 295.74 L599.54 295.77 L600.00 295.80 L600.46 295.81 L600.92 295.77 L601.38 295.77 L601.85 295.75 L602.31 295.81 L602.77 295.80 L603.23 295.83 L603.69 295.81 L604.15 295.82 L604.62 295.77 L605.08 295.79 L605.54 295.86 L606.00 295.89 L606.46 295.82 L606.92 295.80 L607.38 295.80 L607.85 295.82 L608.31 295.78 L608.77 295.72 L609.23 295.72 L609.69 295.70 L610.15 295.73 L610.62 295.77 L611.08 295.81 L611.54 295.89 L612.00 295.80 L612.46 295.78 L612.92 295.71 L613.38 295.82 L613.85 295.87 L614.31 295.90 L614.77 295.86 L615.23 295.82 L615.69 295.80 L616.15 295.79 L616.62 295.74 L617.08 295.81 L617.54 295.84 L618.00 295.96 L618.46 295.95 L618.92 295.94 L619.38 295.91 L619.85 295.83 L620.31 295.79 L620.77 295.79 L621.23 295.83 L621.69 295.81 L622.15 295.79 L622.62 295.77 L623.08 295.81 L623.54 295.86 L624.00 295.86 L624.46 295.85 L624.92 295.82 L625.38 295.85 L625.85 295.87 L626.31 295.83 L626.77 295.83 L627.23 295.76 L627.69 295.78 L628.15 295.82 L628.62 295.86 L629.08 295.86 L629.54 295.84 L630.00 295.91 L630.46 295.95 L630.92 295.90 L631.38 295.86 L631.85 295.88 L632.31 295.89 L632.77 295.91 L633.23 295.84 L633.69 295.84 L634.15 295.75 L634.62 295.76 L635.08 295.72 L635.54 295.77 L636.00 295.76 L636.46 295.86 L636.92 295.91 L637.38 295.94 L637.85 295.89 L638.31 295.84 L638.77 295.84 L639.23 295.83 L639.69 295.87 L640.15 295.88 L640.62 295.90 L641.08 295.90 L641.54 295.85 L642.00 295.89 L642.46 295.90 L642.92 295.95 L643.38 295.97 L643.85 295.91 L644.31 295.89 L644.77 295.87 L645.23 295.92 L645.69 295.93 L646.15 295.92 L646.62 295.87 L647.08 295.87 L647.54 295.88 L648.00 295.90 L648.48 295.83 L648.96 295.73 L649.44 295.60 L649.92 295.52 L650.40 295.45 L650.88 295.40 L651.36 295.28 L651.84 295.16 L652.32 295.07 L652.80 295.00 L653.27 295.07 L653.73 295.14 L654.20 295.28 L654.67 295.34 L655.13 295.47 L655.60 295.57 L656.07 295.70 L656.53 295.82 L657.00 295.90 L657.46 296.00 L657.93 296.08 L658.39 296.04 L658.86 296.05 L659.32 295.97 L659.79 296.03 L660.25 296.06 L660.71 296.11 L661.18 296.12 L661.64 296.13 L662.11 296.16 L662.57 296.16 L663.04 296.20 L663.50 296.20 L664.00 296.61 L664.50 297.00" stroke-dasharray="1.35 1.31" stroke-width="1.9" stroke-linecap="butt"/>
</g>
<!-- PLA/PHA (blue, dashed) -->
<g fill="none" stroke="#0000ff" stroke-width="2.1" stroke-linejoin="round">
<path d="M48.00 412.20 L48.46 412.39 L48.92 412.40 L49.39 412.38 L49.85 412.37 L50.31 412.28 L50.77 412.11 L51.23 411.91 L51.70 411.83 L52.16 411.92 L52.62 411.78 L53.08 411.91 L53.55 411.73 L54.01 411.75 L54.47 411.57 L54.93 411.68 L55.39 411.86 L55.86 411.81 L56.32 411.79 L56.78 411.70 L57.24 411.59 L57.70 411.42 L58.17 411.29 L58.63 411.40 L59.09 411.45 L59.55 411.56 L60.02 411.40 L60.48 411.45 L60.94 411.32 L61.40 411.40 L61.86 411.31 L62.33 411.29 L62.79 411.16 L63.25 411.22 L63.71 411.17 L64.17 411.22 L64.64 411.14 L65.10 411.04 L65.56 410.90 L66.02 410.81 L66.48 410.95 L66.95 410.90 L67.41 410.79 L67.87 410.58 L68.33 410.60 L68.80 410.56 L69.26 410.55 L69.72 410.59 L70.18 410.56 L70.64 410.59 L71.11 410.42 L71.57 410.46 L72.03 410.47 L72.49 410.37 L72.95 410.36 L73.42 410.31 L73.88 410.43 L74.34 410.42 L74.80 410.40 L75.27 410.27 L75.73 410.20 L76.19 410.19 L76.65 410.37 L77.11 410.24 L77.58 410.11 L78.04 409.86 L78.50 410.10 L78.96 409.83 L79.42 409.80 L79.89 409.80 L80.35 410.01 L80.81 409.86 L81.28 409.87 L81.74 409.55 L82.20 409.71 L82.66 409.54 L83.12 409.65 L83.59 409.52 L84.05 409.36 L84.51 409.19 L84.97 409.21 L85.44 409.14 L85.90 409.12 L86.36 408.99 L86.83 409.02 L87.29 408.92 L87.75 408.91 L88.21 408.90 L88.67 408.81 L89.14 408.67 L89.60 408.37 L90.06 408.26 L90.53 408.10 L90.99 408.27 L91.45 408.19 L91.91 408.19 L92.38 408.12 L92.84 408.23 L93.30 408.10 L93.76 408.11 L94.22 407.94 L94.67 407.83 L95.13 407.73 L95.59 407.60 L96.05 407.31 L96.51 407.23 L96.96 407.20 L97.42 407.21 L97.88 407.13 L98.34 406.93 L98.79 406.94 L99.25 406.94 L99.71 406.78 L100.17 406.73 L100.63 406.54 L101.08 406.53 L101.54 406.21 L102.00 406.20 L102.46 406.05 L102.92 405.87 L103.38 405.80 L103.84 405.62 L104.30 405.76 L104.76 405.68 L105.22 405.63 L105.68 405.43 L106.14 405.33 L106.60 405.10 L107.08 405.27 L107.57 405.58 L108.05 405.86 L108.53 406.43 L109.02 406.74 L109.50 407.00 L109.95 407.52 L110.40 408.02 L110.85 408.70 L111.30 409.37 L111.75 409.99 L112.20 410.55 L112.65 411.19 L113.10 411.82 L113.55 412.45 L114.00 413.10 L114.45 412.89 L114.91 412.96 L115.36 413.07 L115.82 413.41 L116.27 413.56 L116.72 413.56 L117.18 413.60 L117.63 413.57 L118.08 413.69 L118.54 413.77 L118.99 413.88 L119.45 413.82 L119.90 413.93 L120.35 413.91 L120.81 414.01 L121.26 413.90 L121.72 413.95 L122.17 413.97 L122.62 414.17 L123.08 414.28 L123.53 414.36 L123.98 414.39 L124.44 414.44 L124.89 414.57 L125.35 414.64 L125.80 414.60 L126.26 414.61 L126.72 414.54 L127.17 414.37 L127.63 414.26 L128.09 414.23 L128.55 414.43 L129.00 414.35 L129.46 414.28 L129.92 414.11 L130.38 414.18 L130.84 414.20 L131.29 414.34 L131.75 414.47 L132.21 414.46 L132.67 414.36 L133.12 414.20 L133.58 413.94 L134.04 413.88 L134.50 413.74 L134.95 413.77 L135.41 413.71 L135.87 413.65 L136.33 413.85 L136.79 413.85 L137.24 413.97 L137.70 413.84 L138.16 413.77 L138.62 413.71 L139.07 413.70 L139.53 413.59 L139.99 413.57 L140.45 413.50 L140.91 413.58 L141.36 413.44 L141.82 413.41 L142.28 413.30 L142.74 413.41 L143.19 413.40 L143.65 413.39 L144.11 413.34 L144.57 413.30 L145.03 413.36 L145.48 413.31 L145.94 413.29 L146.40 413.07 L146.86 412.99 L147.31 412.98 L147.77 413.11 L148.23 413.01 L148.69 412.91 L149.15 412.77 L149.60 412.82 L150.06 412.75 L150.52 412.70 L150.98 412.66 L151.43 412.68 L151.89 412.76 L152.35 412.66 L152.81 412.54 L153.26 412.49 L153.72 412.56 L154.18 412.59 L154.64 412.40 L155.10 412.41 L155.55 412.31 L156.01 412.46 L156.47 412.36 L156.93 412.40 L157.38 412.26 L157.84 412.27 L158.30 412.20 L158.77 412.09 L159.23 411.93 L159.70 411.73 L160.16 411.86 L160.63 411.96 L161.09 412.18 L161.56 412.01 L162.03 412.07 L162.49 412.10 L162.96 412.16 L163.42 411.80 L163.89 411.55 L164.35 411.61 L164.82 411.90 L165.29 411.89 L165.75 411.62 L166.22 411.35 L166.68 411.51 L167.15 411.62 L167.61 411.55 L168.08 411.20 L168.55 411.21 L169.01 411.36 L169.48 411.45 L169.94 411.35 L170.41 411.26 L170.87 411.24 L171.34 411.17 L171.81 411.09 L172.27 411.03 L172.74 411.14 L173.20 411.18 L173.67 411.28 L174.13 411.29 L174.60 411.00 L175.05 408.05 L175.50 405.10 L175.95 408.05 L176.40 411.00 L176.86 410.93 L177.32 410.88 L177.78 410.83 L178.25 410.74 L178.71 410.76 L179.17 410.80 L179.63 410.87 L180.09 410.83 L180.55 410.76 L181.01 410.91 L181.48 410.86 L181.94 410.84 L182.40 410.56 L182.86 410.49 L183.32 410.36 L183.78 410.35 L184.24 410.50 L184.71 410.45 L185.17 410.34 L185.63 410.23 L186.09 410.29 L186.55 410.36 L187.01 410.30 L187.47 410.23 L187.94 410.14 L188.40 410.08 L188.86 410.18 L189.32 409.96 L189.78 410.01 L190.24 410.04 L190.70 410.22 L191.16 410.18 L191.63 410.00 L192.09 409.99 L192.55 409.93 L193.01 409.84 L193.47 409.68 L193.93 409.48 L194.39 409.59 L194.86 409.67 L195.32 409.91 L195.78 409.87 L196.24 409.88 L196.70 409.65 L197.16 409.45 L197.62 409.32 L198.09 409.37 L198.55 409.52 L199.01 409.53 L199.47 409.51 L199.93 409.46 L200.39 409.46 L200.85 409.46 L201.32 409.45 L201.78 409.36 L202.24 409.31 L202.70 409.30 L203.17 409.05 L203.64 409.01 L204.11 409.13 L204.57 409.12 L205.04 409.00 L205.51 409.01 L205.98 408.97 L206.45 408.92 L206.92 408.73 L207.38 408.67 L207.85 408.58 L208.32 408.60 L208.79 408.80 L209.26 408.90 L209.73 408.83 L210.19 408.76 L210.66 408.79 L211.13 408.82 L211.60 408.70 L212.08 408.80 L212.56 408.91 L213.04 408.94 L213.52 409.15 L214.00 409.20 L214.44 408.79 L214.88 408.65 L215.32 408.48 L215.76 408.27 L216.20 407.96 L216.64 407.56 L217.08 407.32 L217.52 406.83 L217.96 406.82 L218.40 406.60 L218.84 406.84 L219.29 406.85 L219.73 407.14 L220.17 407.36 L220.61 407.63 L221.06 407.80 L221.50 408.00 L221.94 408.50 L222.38 409.01 L222.81 409.56 L223.25 410.18 L223.69 410.63 L224.12 411.03 L224.56 411.42 L225.00 412.20 L225.45 412.03 L225.91 412.20 L226.36 412.17 L226.82 412.28 L227.27 412.21 L227.73 412.13 L228.18 412.13 L228.64 412.08 L229.09 412.23 L229.55 412.10 L230.00 412.16 L230.45 412.09 L230.91 412.18 L231.36 412.14 L231.82 412.06 L232.27 412.01 L232.73 411.97 L233.18 411.95 L233.64 412.04 L234.09 412.06 L234.55 412.09 L235.00 412.01 L235.45 411.83 L235.91 411.72 L236.36 411.81 L236.82 411.76 L237.27 411.83 L237.73 411.72 L238.18 411.72 L238.64 411.64 L239.09 411.55 L239.55 411.77 L240.00 411.70 L240.46 411.98 L240.92 411.94 L241.38 411.96 L241.83 411.93 L242.29 411.70 L242.75 411.53 L243.21 411.51 L243.67 411.64 L244.13 411.58 L244.59 411.52 L245.05 411.40 L245.50 411.52 L245.96 411.47 L246.42 411.57 L246.88 411.43 L247.34 411.32 L247.80 411.24 L248.26 411.24 L248.72 411.25 L249.17 411.11 L249.63 410.97 L250.09 410.85 L250.55 410.90 L251.01 410.96 L251.47 410.85 L251.93 410.71 L252.39 410.73 L252.84 410.86 L253.30 410.90 L253.76 410.90 L254.22 410.75 L254.68 410.64 L255.14 410.51 L255.60 410.53 L256.06 410.58 L256.51 410.72 L256.97 410.71 L257.43 410.73 L257.89 410.68 L258.35 410.58 L258.81 410.40 L259.27 410.29 L259.72 410.24 L260.18 410.42 L260.64 410.23 L261.10 410.21 L261.56 410.10 L262.02 410.16 L262.48 410.28 L262.94 410.11 L263.39 410.22 L263.85 410.09 L264.31 410.20 L264.77 410.16 L265.23 410.06 L265.69 409.90 L266.15 409.65 L266.61 409.65 L267.06 409.76 L267.52 409.87 L267.98 410.00 L268.44 410.01 L268.90 410.06 L269.36 410.02 L269.82 409.84 L270.28 409.70 L270.73 409.64 L271.19 409.71 L271.65 409.80 L272.11 409.77 L272.57 409.64 L273.03 409.52 L273.49 409.60 L273.94 409.62 L274.40 409.75 L274.86 409.53 L275.32 409.55 L275.78 409.38 L276.24 409.46 L276.70 409.30 L277.16 409.28 L277.61 409.19 L278.07 409.19 L278.53 409.04 L278.99 408.90 L279.45 408.87 L279.91 408.98 L280.37 409.08 L280.83 409.10 L281.28 409.05 L281.74 408.89 L282.20 408.93 L282.66 408.88 L283.12 408.89 L283.58 408.73 L284.04 408.78 L284.50 408.82 L284.95 408.70 L285.41 408.76 L285.87 408.60 L286.33 408.84 L286.79 408.71 L287.25 408.71 L287.71 408.65 L288.17 408.65 L288.62 408.78 L289.08 408.70 L289.54 408.60 L290.00 408.40 L290.45 408.39 L290.91 408.36 L291.36 408.42 L291.82 408.43 L292.27 408.55 L292.73 408.30 L293.18 408.29 L293.64 407.99 L294.09 407.95 L294.55 407.94 L295.00 408.01 L295.45 408.09 L295.91 407.96 L296.36 407.94 L296.82 407.84 L297.27 407.88 L297.73 407.84 L298.18 407.84 L298.64 407.87 L299.09 407.74 L299.55 407.85 L300.00 407.90 L300.46 407.97 L300.92 407.92 L301.38 407.93 L301.85 407.83 L302.31 407.70 L302.77 407.63 L303.23 407.56 L303.69 407.58 L304.15 407.53 L304.62 407.48 L305.08 407.56 L305.54 407.39 L306.00 407.53 L306.46 407.42 L306.92 407.64 L307.38 407.60 L307.85 407.62 L308.31 407.48 L308.77 407.36 L309.23 407.17 L309.69 407.07 L310.15 406.95 L310.62 406.97 L311.08 406.97 L311.54 406.95 L312.00 406.98 L312.46 406.94 L312.92 406.93 L313.38 406.92 L313.85 406.94 L314.31 406.84 L314.77 406.75 L315.23 406.91 L315.69 406.99 L316.15 407.01 L316.62 406.68 L317.08 406.72 L317.54 406.77 L318.00 406.60 L318.47 406.75 L318.93 406.61 L319.40 406.40 L319.87 406.44 L320.33 406.40 L320.80 406.56 L321.27 406.53 L321.73 406.55 L322.20 406.67 L322.67 406.70 L323.13 406.62 L323.60 406.48 L324.07 406.44 L324.53 406.48 L325.00 406.53 L325.47 406.43 L325.93 406.27 L326.40 406.06 L326.87 406.10 L327.33 406.14 L327.80 406.22 L328.27 406.06 L328.73 406.15 L329.20 406.10 L329.67 406.13 L330.13 406.04 L330.60 406.02 L331.07 406.15 L331.53 406.20 L332.00 406.10 L332.47 406.11 L332.93 406.15 L333.40 406.19 L333.87 406.30 L334.33 406.16 L334.80 406.18 L335.27 406.03 L335.73 406.03 L336.20 406.00 L336.67 406.04 L337.13 406.15 L337.60 406.13 L338.07 405.98 L338.53 405.91 L339.00 405.88 L339.47 406.07 L339.93 406.06 L340.40 406.02 L340.87 406.00 L341.33 405.98 L341.80 405.92 L342.27 405.81 L342.73 405.85 L343.20 405.89 L343.67 405.72 L344.13 405.61 L344.60 405.66 L345.07 405.73 L345.53 405.81 L346.00 405.70 L346.46 405.71 L346.91 405.69 L347.37 405.49 L347.83 405.37 L348.28 405.16 L348.74 405.36 L349.20 405.49 L349.65 405.64 L350.11 405.58 L350.57 405.59 L351.02 405.48 L351.48 405.44 L351.93 405.49 L352.39 405.57 L352.85 405.48 L353.30 405.43 L353.76 405.51 L354.22 405.66 L354.67 405.53 L355.13 405.41 L355.59 405.35 L356.04 405.38 L356.50 405.38 L356.96 405.44 L357.41 405.41 L357.87 405.32 L358.33 405.18 L358.78 405.20 L359.24 405.30 L359.70 405.28 L360.15 405.31 L360.61 405.18 L361.07 405.21 L361.52 405.06 L361.98 405.07 L362.43 404.96 L362.89 405.09 L363.35 405.01 L363.80 405.09 L364.26 404.98 L364.72 404.90 L365.17 404.79 L365.63 404.81 L366.09 404.86 L366.54 404.94 L367.00 404.90 L367.46 404.96 L367.92 404.95 L368.38 404.97 L368.84 404.89 L369.30 404.87 L369.76 404.90 L370.22 404.86 L370.68 404.76 L371.14 404.74 L371.60 404.82 L372.06 404.91 L372.52 404.89 L372.98 404.75 L373.44 404.67 L373.90 404.64 L374.36 404.73 L374.82 404.71 L375.28 404.74 L375.74 404.58 L376.20 404.77 L376.66 404.65 L377.12 404.75 L377.58 404.56 L378.04 404.53 L378.50 404.55 L378.96 404.47 L379.42 404.55 L379.88 404.58 L380.34 404.70 L380.80 404.72 L381.26 404.58 L381.72 404.46 L382.18 404.35 L382.64 404.54 L383.10 404.70 L383.56 404.66 L384.02 404.71 L384.48 404.72 L384.94 404.94 L385.40 404.88 L385.86 404.93 L386.32 404.71 L386.78 404.63 L387.24 404.46 L387.70 404.74 L388.16 404.78 L388.62 404.83 L389.08 404.65 L389.54 404.43 L390.00 404.60 L390.46 404.38 L390.92 404.64 L391.38 404.69 L391.84 404.74 L392.30 404.60 L392.76 404.62 L393.22 404.58 L393.68 404.69 L394.14 404.61 L394.60 404.62 L395.06 404.56 L395.52 404.67 L395.98 404.56 L396.44 404.59 L396.90 404.50 L397.36 404.60 L397.82 404.65 L398.28 404.64 L398.74 404.69 L399.20 404.49 L399.66 404.48 L400.12 404.33 L400.58 404.44 L401.04 404.56 L401.50 404.58 L401.96 404.66 L402.42 404.39 L402.88 404.46 L403.34 404.39 L403.80 404.36 L404.26 404.37 L404.72 404.25 L405.18 404.30 L405.64 404.34 L406.10 404.39 L406.56 404.46 L407.02 404.39 L407.48 404.42 L407.94 404.50 L408.40 404.50 L408.86 404.45 L409.32 404.32 L409.78 404.36 L410.24 404.41 L410.70 404.30 L411.15 404.52 L411.61 404.86 L412.06 405.58 L412.52 405.89 L412.97 406.18 L413.42 406.23 L413.88 406.61 L414.33 406.84 L414.78 407.21 L415.24 407.56 L415.69 407.92 L416.15 408.32 L416.60 408.80 L417.06 408.78 L417.53 408.88 L417.99 409.05 L418.45 408.91 L418.91 408.79 L419.38 408.76 L419.84 408.65 L420.30 408.40 L420.70 395.85 L421.10 383.30" stroke-dasharray="4.1 3.1"/>
<path d="M421.10 383.30 L421.65 395.90 L422.20 408.50 L422.75 409.29 L423.30 410.20 L423.75 410.18 L424.19 410.31 L424.64 410.71 L425.09 410.88 L425.53 410.87 L425.98 410.89 L426.43 411.06 L426.87 411.36 L427.32 411.43 L427.77 411.37 L428.21 411.48 L428.66 411.60 L429.11 411.82 L429.55 411.95 L430.00 412.20 L430.45 412.21 L430.91 412.26 L431.36 412.07 L431.82 412.17 L432.27 412.22 L432.73 412.27 L433.18 412.15 L433.64 412.07 L434.09 412.12 L434.55 412.16 L435.00 412.20 L435.46 411.40 L435.92 410.70 L436.38 409.76 L436.84 409.01 L437.30 408.20 L437.73 408.93 L438.16 409.66 L438.59 410.20 L439.01 410.79 L439.44 411.18 L439.87 411.73 L440.30 412.60 L440.76 412.45 L441.21 412.50 L441.67 412.50 L442.12 412.46 L442.58 412.33 L443.03 412.15 L443.49 412.08 L443.95 412.03 L444.40 412.23 L444.86 412.06 L445.31 412.22 L445.77 411.89 L446.23 412.03 L446.68 411.91 L447.14 412.01 L447.59 411.92 L448.05 411.96 L448.50 411.92 L448.96 411.96 L449.42 411.86 L449.87 411.97 L450.33 411.84 L450.78 411.91 L451.24 411.81 L451.69 411.96 L452.15 411.71 L452.61 411.78 L453.06 411.66 L453.52 411.80 L453.97 411.63 L454.43 411.67 L454.88 411.58 L455.34 411.45 L455.80 411.55 L456.25 411.46 L456.71 411.61 L457.16 411.37 L457.62 411.35 L458.07 411.25 L458.53 411.31 L458.99 411.38 L459.44 411.46 L459.90 411.22 L460.35 411.18 L460.81 410.95 L461.27 411.23 L461.72 411.17 L462.18 411.34 L462.63 411.13 L463.09 411.07 L463.54 410.89 L464.00 410.90 L464.46 410.98 L464.92 411.11 L465.38 410.88 L465.85 410.89 L466.31 410.76 L466.77 410.81 L467.23 410.77 L467.69 410.85 L468.15 410.90 L468.62 410.81 L469.08 410.71 L469.54 410.55 L470.00 410.80 L470.46 410.64 L470.92 410.74 L471.38 410.62 L471.85 410.67 L472.31 410.43 L472.77 410.51 L473.23 410.45 L473.69 410.62 L474.15 410.52 L474.62 410.40 L475.08 410.22 L475.54 410.23 L476.00 410.20 L476.46 410.31 L476.93 410.05 L477.39 409.85 L477.86 409.78 L478.32 409.77 L478.79 409.62 L479.25 409.50 L479.71 409.33 L480.18 409.12 L480.64 409.11 L481.11 408.88 L481.57 408.90 L482.04 408.88 L482.50 408.50 L482.96 408.68 L483.43 408.34 L483.89 408.46 L484.36 408.44 L484.82 408.63 L485.29 408.67 L485.75 408.53 L486.21 408.43 L486.68 408.40 L487.14 408.33 L487.61 408.27 L488.07 408.11 L488.54 408.25 L489.00 408.20 L489.46 408.41 L489.92 408.25 L490.38 408.20 L490.85 407.88 L491.31 407.71 L491.77 407.60 L492.23 407.59 L492.69 407.50 L493.15 407.23 L493.62 407.12 L494.08 407.04 L494.54 407.10 L495.00 407.10 L495.47 406.85 L495.93 406.74 L496.40 406.81 L496.87 406.79 L497.33 406.74 L497.80 406.48 L498.27 406.47 L498.73 406.40 L499.20 406.55 L499.67 406.41 L500.13 406.49 L500.60 406.22 L501.07 406.26 L501.53 406.28 L502.00 406.00 L502.43 406.10 L502.86 405.55 L503.29 405.41 L503.71 405.28 L504.14 405.40 L504.57 405.33 L505.00 405.20 L505.50 404.80 L506.00 404.57 L506.50 404.40 L507.00 404.75 L507.50 405.04 L508.00 405.30 L508.45 405.38 L508.90 405.24 L509.35 405.24 L509.80 405.09 L510.25 405.32 L510.70 405.25 L511.15 405.52 L511.60 405.34 L512.05 405.39 L512.50 405.30 L512.94 405.28 L513.38 405.17 L513.81 404.91 L514.25 404.73 L514.69 404.52 L515.12 404.34 L515.56 404.08 L516.00 404.20 L516.43 403.79 L516.86 403.85 L517.29 403.83 L517.71 403.85 L518.14 403.44 L518.57 403.04 L519.00 402.80 L519.50 402.59 L520.00 402.68 L520.50 402.69 L521.00 402.78 L521.50 402.50 L522.00 402.93 L522.50 403.08 L523.00 403.15 L523.50 403.30 L524.00 403.79 L524.50 404.20 L525.00 405.29 L525.50 406.32 L526.00 407.50 L526.50 408.37 L527.00 409.34 L527.50 410.18 L528.00 411.30 L528.50 411.17 L529.00 411.42 L529.50 411.20 L530.00 410.80 L530.50 410.02 L531.00 409.30 L531.46 406.24 L531.92 403.18 L532.38 400.12 L532.84 397.06 L533.30 394.00" stroke-dasharray="4.1 3.1"/>
<path d="M533.60 392.50 L534.50 350.00 L534.90 298.50" stroke-dasharray="6.5 2.2" stroke-width="2.5"/>
<path d="M535.50 394.00 L535.50 417.00 L535.90 419.60 L536.30 422.20 L536.80 422.89 L537.30 423.50 L537.80 424.00 L538.26 424.08 L538.72 424.04 L539.18 424.08 L539.64 424.17 L540.10 424.21 L540.56 424.08 L541.03 423.92 L541.49 423.95 L541.95 424.06 L542.41 424.22 L542.87 424.17 L543.33 424.13 L543.79 424.10 L544.25 424.07 L544.71 424.16 L545.17 424.18 L545.63 424.14 L546.09 424.05 L546.55 424.06 L547.01 424.15 L547.48 424.19 L547.94 424.17 L548.40 424.08 L548.86 424.04 L549.32 424.05 L549.78 424.03 L550.24 424.09 L550.70 424.10 L551.16 424.21 L551.62 424.23 L552.08 424.29 L552.54 424.28 L553.00 424.21 L553.47 424.06 L553.93 423.96 L554.39 424.00 L554.85 424.12 L555.31 424.15 L555.77 424.16 L556.23 424.09 L556.69 424.16 L557.15 424.16 L557.61 424.20 L558.07 424.16 L558.53 424.19 L558.99 424.19 L559.45 424.16 L559.92 424.17 L560.38 424.25 L560.84 424.31 L561.30 424.35 L561.76 424.22 L562.22 424.23 L562.68 424.23 L563.14 424.35 L563.60 424.39 L564.06 424.39 L564.52 424.32 L564.98 424.33 L565.44 424.33 L565.91 424.39 L566.37 424.38 L566.83 424.38 L567.29 424.36 L567.75 424.38 L568.21 424.28 L568.67 424.29 L569.13 424.23 L569.59 424.28 L570.05 424.27 L570.51 424.32 L570.97 424.28 L571.43 424.26 L571.89 424.27 L572.36 424.31 L572.82 424.34 L573.28 424.34 L573.74 424.38 L574.20 424.35 L574.66 424.36 L575.12 424.38 L575.58 424.35 L576.04 424.38 L576.50 424.32 L576.96 424.39 L577.42 424.39 L577.88 424.46 L578.35 424.40 L578.81 424.34 L579.27 424.27 L579.73 424.35 L580.19 424.40 L580.65 424.37 L581.11 424.39 L581.57 424.44 L582.03 424.49 L582.49 424.46 L582.95 424.43 L583.41 424.41 L583.87 424.40 L584.33 424.42 L584.80 424.45 L585.26 424.47 L585.72 424.46 L586.18 424.55 L586.64 424.57 L587.10 424.58 L587.56 424.49 L588.02 424.54 L588.48 424.53 L588.94 424.56 L589.40 424.56 L589.86 424.62 L590.32 424.59 L590.79 424.52 L591.25 424.52 L591.71 424.55 L592.17 424.63 L592.63 424.58 L593.09 424.68 L593.55 424.58 L594.01 424.51 L594.47 424.37 L594.93 424.50 L595.39 424.55 L595.85 424.60 L596.31 424.50 L596.77 424.50 L597.24 424.53 L597.70 424.57 L598.16 424.57 L598.62 424.55 L599.08 424.61 L599.54 424.68 L600.00 424.60 L600.46 424.75 L600.92 424.70 L601.38 424.69 L601.84 424.71 L602.30 424.69 L602.76 424.71 L603.22 424.53 L603.68 424.49 L604.14 424.37 L604.60 424.43 L605.06 424.48 L605.52 424.52 L605.98 424.60 L606.44 424.61 L606.90 424.62 L607.36 424.53 L607.82 424.49 L608.28 424.50 L608.74 424.53 L609.20 424.63 L609.66 424.65 L610.12 424.60 L610.58 424.60 L611.04 424.54 L611.50 424.61 L611.96 424.53 L612.42 424.55 L612.88 424.54 L613.34 424.54 L613.80 424.54 L614.26 424.56 L614.72 424.64 L615.18 424.70 L615.64 424.79 L616.11 424.69 L616.57 424.65 L617.03 424.62 L617.49 424.65 L617.95 424.66 L618.41 424.64 L618.87 424.75 L619.33 424.79 L619.79 424.77 L620.25 424.70 L620.71 424.70 L621.17 424.70 L621.63 424.72 L622.09 424.67 L622.55 424.66 L623.01 424.61 L623.47 424.59 L623.93 424.56 L624.39 424.56 L624.85 424.58 L625.31 424.59 L625.77 424.57 L626.23 424.61 L626.69 424.65 L627.15 424.78 L627.61 424.67 L628.07 424.60 L628.53 424.49 L628.99 424.56 L629.45 424.62 L629.91 424.63 L630.37 424.63 L630.83 424.66 L631.29 424.69 L631.75 424.66 L632.21 424.67 L632.67 424.77 L633.13 424.89 L633.59 424.85 L634.05 424.81 L634.51 424.76 L634.97 424.75 L635.43 424.71 L635.89 424.77 L636.35 424.79 L636.81 424.77 L637.27 424.65 L637.73 424.66 L638.19 424.63 L638.65 424.68 L639.11 424.62 L639.57 424.63 L640.03 424.59 L640.49 424.62 L640.95 424.61 L641.41 424.71 L641.87 424.77 L642.33 424.81 L642.79 424.71 L643.25 424.73 L643.71 424.73 L644.17 424.80 L644.63 424.80 L645.09 424.80 L645.55 424.79 L646.01 424.77 L646.47 424.77 L646.93 424.74 L647.39 424.70 L647.86 424.58 L648.32 424.57 L648.78 424.67 L649.24 424.86 L649.70 424.99 L650.16 424.92 L650.62 424.92 L651.08 424.78 L651.54 424.75 L652.00 424.67 L652.46 424.72 L652.92 424.79 L653.38 424.74 L653.84 424.75 L654.30 424.76 L654.76 424.88 L655.22 424.80 L655.68 424.77 L656.14 424.75 L656.60 424.75 L657.06 424.69 L657.52 424.77 L657.98 424.80 L658.44 424.83 L658.90 424.66 L659.36 424.66 L659.82 424.74 L660.28 424.84 L660.74 424.83 L661.20 424.78 L661.66 424.78 L662.12 424.84 L662.58 424.80 L663.04 424.80 L663.50 424.80 L664.00 425.07 L664.50 425.40" stroke-dasharray="3.5 2.2"/>
</g>
<!-- frame -->
<rect x="47.92" y="7.28" width="616.43" height="431.72" fill="none" stroke="#111" stroke-width="1.4"/>
<g stroke="#111" stroke-width="1.3"><line x1="664.20" y1="439.00" x2="664.20" y2="431.20"/><line x1="618.53" y1="439.00" x2="618.53" y2="435.10"/><line x1="572.86" y1="439.00" x2="572.86" y2="431.20"/><line x1="527.19" y1="439.00" x2="527.19" y2="435.10"/><line x1="481.52" y1="439.00" x2="481.52" y2="431.20"/><line x1="435.85" y1="439.00" x2="435.85" y2="435.10"/><line x1="390.18" y1="439.00" x2="390.18" y2="431.20"/><line x1="344.51" y1="439.00" x2="344.51" y2="435.10"/><line x1="298.84" y1="439.00" x2="298.84" y2="431.20"/><line x1="253.17" y1="439.00" x2="253.17" y2="435.10"/><line x1="207.50" y1="439.00" x2="207.50" y2="431.20"/><line x1="161.83" y1="439.00" x2="161.83" y2="435.10"/><line x1="116.16" y1="439.00" x2="116.16" y2="431.20"/><line x1="70.49" y1="439.00" x2="70.49" y2="435.10"/></g>
<g font-size="25"><text x="664.20" y="466.9" text-anchor="middle">0</text><text x="572.86" y="466.9" text-anchor="middle">200</text><text x="481.52" y="466.9" text-anchor="middle">400</text><text x="390.18" y="466.9" text-anchor="middle">600</text><text x="298.84" y="466.9" text-anchor="middle">800</text><text x="207.50" y="466.9" text-anchor="middle">1000</text><text x="116.16" y="466.9" text-anchor="middle">1200</text></g>
<!-- annotations -->
<g font-size="25">
<text x="55.3" y="114" word-spacing="1.25">C - Auger</text>
<text x="154.6" y="143.1" font-size="25.3">Na1s</text>
<text x="216.4" y="137.3" word-spacing="1.3">O - Auger</text>
<text x="393.8" y="117" letter-spacing="0.3">O1s</text>
<text x="462.1" y="117">Ca2p</text>
<text x="490.8" y="53.5" letter-spacing="0.5">C1s</text>
<text x="607.65" y="161.2">PLA</text>
<text x="605.2" y="290.8" style="fill:#ff0000">PHA</text>
<text x="555.6" y="418.4" font-size="25.4" style="fill:#0000ff">PLA/PHA</text>
</g>
<text x="588.1" y="38" font-size="32.3">FDM</text>
<text x="233.8" y="512.05" font-size="29">Bending<tspan dx="1.6"> energy (eV)</tspan></text>
<text transform="translate(29.6 223.3) rotate(-90)" font-size="29.3" text-anchor="middle">Intensity (a.u.)</text>
<!-- arrows -->
<g stroke="#000" stroke-width="0.8" fill="#000">
<line x1="94.9" y1="119.55" x2="103.2" y2="138.5"/>
<polygon points="105.3,142.9 100.3,136.6 104.3,134.8"/>
<line x1="236.6" y1="141.5" x2="226" y2="146.0"/>
<polygon points="221.8,147.5 229.0,143.0 230.4,146.8"/>
<line x1="496.4" y1="120.5" x2="500.8" y2="137.5"/>
<polygon points="501.9,141.8 497.5,134.2 501.9,133.0"/>
</g>
</svg>
</body></html>
